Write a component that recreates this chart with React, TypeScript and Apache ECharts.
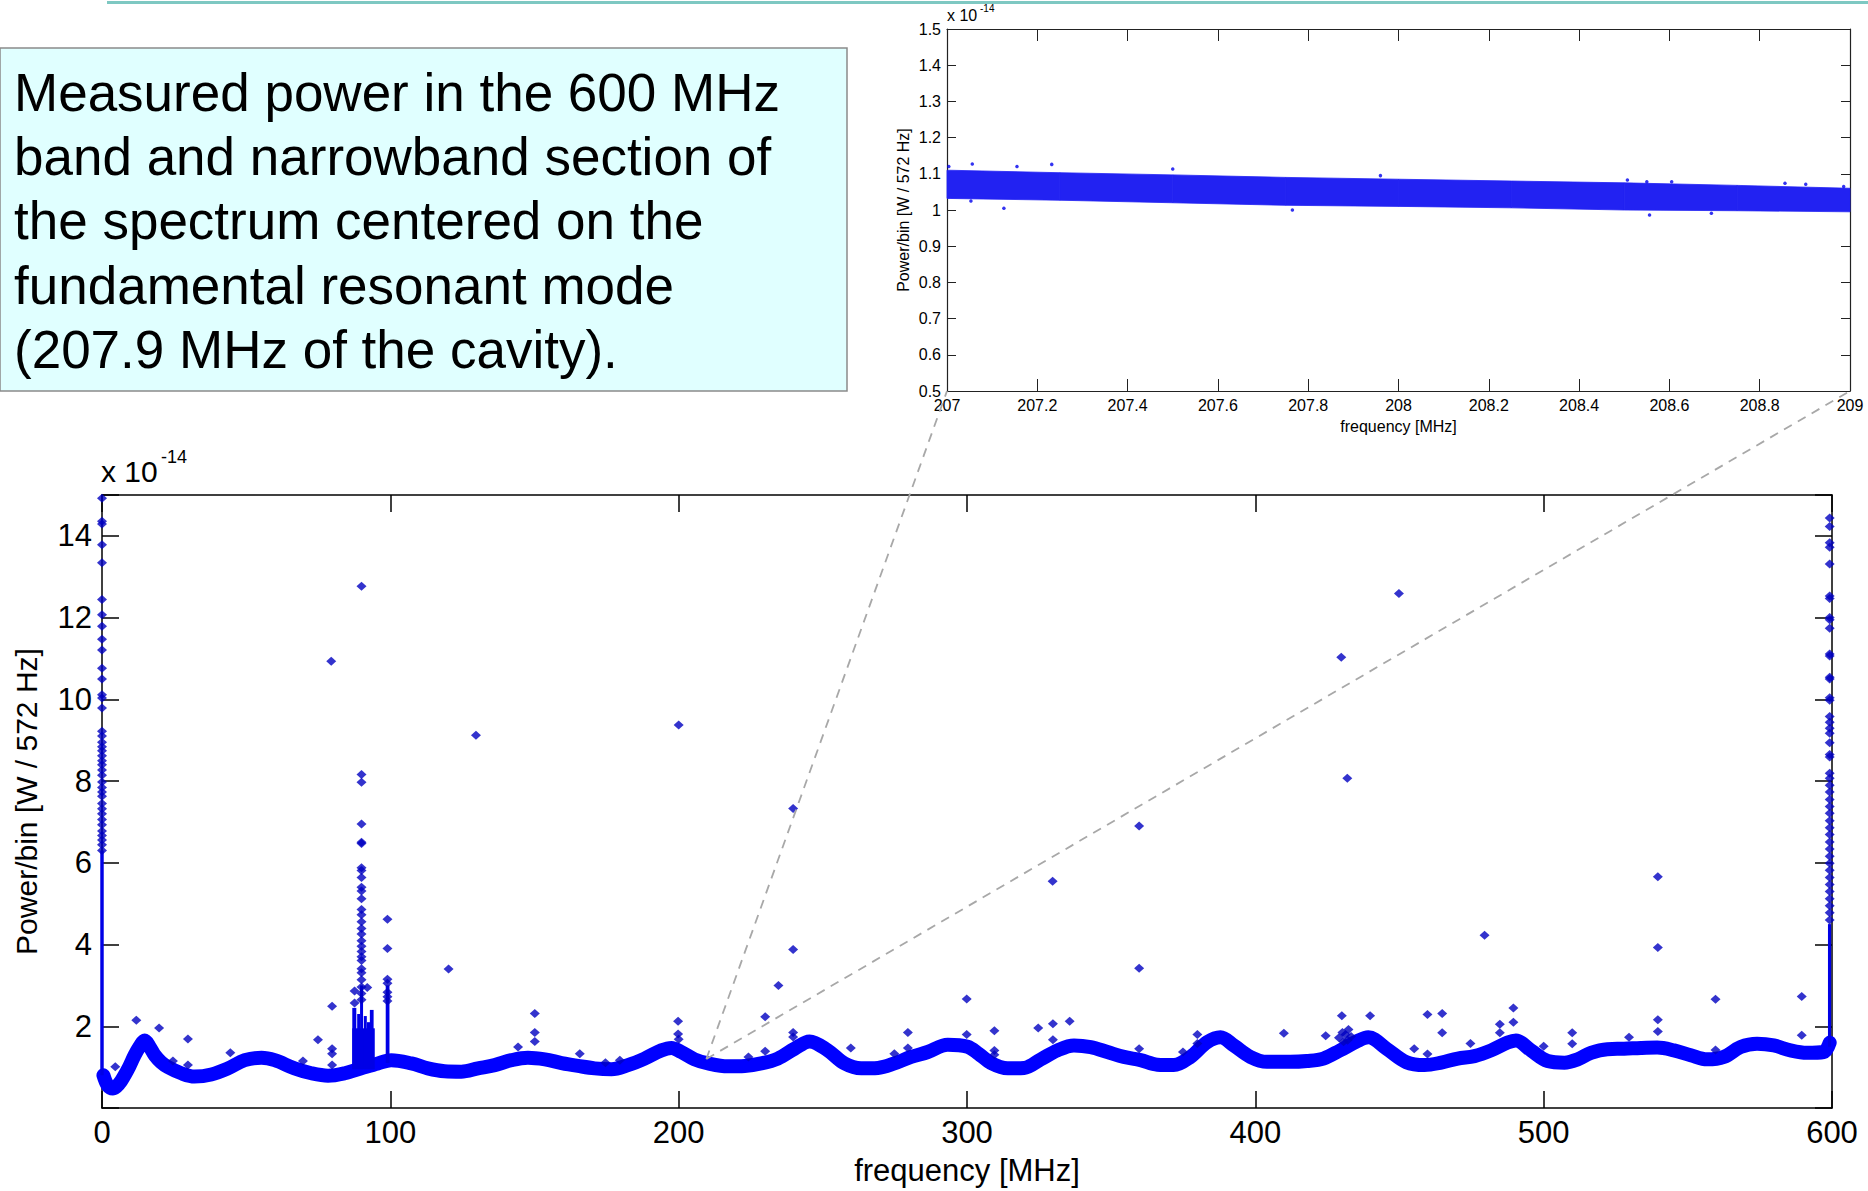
import React, { useEffect, useRef } from "react";
import * as echarts from "echarts";

// ---------- main spectrum: smooth baseline band (MHz, x1e-14 W) ----------
const bandFreq = [0.5, 2, 3.8, 6, 7.9, 9.5, 11.3, 13, 14.8, 16.5, 18.3, 20.5, 22.9, 27.5, 32.1, 37.9, 43.7, 49.5, 55.3, 59.9, 66.8, 72.6, 78.4, 84.2, 89.9, 95.7, 100.3, 107.3, 113, 118.8, 124.6, 130.4, 136.2, 142, 147.7, 153.6, 159.4, 165.1, 170.9, 176.7, 182.4, 188.2, 194, 197.5, 200.9, 205.5, 210.2, 217.1, 222.9, 228.6, 234.4, 240.2, 245.4, 251.7, 257.5, 263.3, 269.1, 274.8, 280.6, 286.4, 293.3, 300.2, 304, 308.3, 314.1, 319.8, 325.6, 331.4, 337.1, 342.9, 348.7, 354.4, 360.2, 366, 371.7, 377.5, 383.3, 387.9, 392.5, 398.3, 404, 412.1, 417.9, 423.6, 429.4, 435.2, 439.2, 445.5, 452.4, 458.7, 464.5, 470.2, 476, 481.8, 487.5, 490.4, 495.6, 501.4, 507.2, 511.8, 516.4, 522.1, 527.9, 533.7, 539.4, 545.2, 551, 556.7, 562.5, 568.3, 574, 579.8, 585.6, 591.3, 597.1, 599.2];
const bandValue = [0.8, 0.55, 0.48, 0.6, 0.81, 1.02, 1.29, 1.5, 1.65, 1.5, 1.29, 1.12, 1.0, 0.85, 0.77, 0.82, 0.97, 1.17, 1.23, 1.17, 0.97, 0.85, 0.79, 0.85, 0.97, 1.09, 1.17, 1.09, 0.97, 0.9, 0.89, 0.97, 1.05, 1.17, 1.23, 1.19, 1.1, 1.03, 0.97, 0.95, 1.05, 1.21, 1.41, 1.47, 1.37, 1.19, 1.09, 1.02, 1.03, 1.09, 1.21, 1.45, 1.63, 1.41, 1.09, 0.97, 0.98, 1.09, 1.25, 1.37, 1.55, 1.5, 1.33, 1.1, 0.97, 0.98, 1.19, 1.41, 1.53, 1.49, 1.37, 1.25, 1.17, 1.06, 1.05, 1.25, 1.61, 1.73, 1.53, 1.25, 1.13, 1.13, 1.15, 1.21, 1.41, 1.63, 1.73, 1.45, 1.12, 1.05, 1.11, 1.21, 1.27, 1.41, 1.6, 1.65, 1.41, 1.15, 1.11, 1.19, 1.35, 1.44, 1.45, 1.47, 1.48, 1.41, 1.29, 1.19, 1.25, 1.49, 1.57, 1.53, 1.41, 1.35, 1.37, 1.6];

// dense vertical streaks: [freqFrom, freqTo, low, high]
const streaks = [
  [-0.6, 0.6, 0.8, 6.3],
  [598.6, 599.7, 1.5, 4.5],
  [86.8, 94.6, 0.95, 1.95],
  [86.8, 88.2, 0.95, 2.45],
  [88.5, 89.3, 0.95, 2.3],
  [89.5, 90.5, 0.95, 3.0],
  [90.8, 91.7, 0.95, 2.25],
  [91.9, 92.6, 0.95, 2.1],
  [92.9, 94.2, 0.95, 2.4],
  [98.4, 99.7, 1.1, 3.0],
];

// isolated columns of spectral lines
const column0Freq = 0;
const column0Values = [14.92, 14.36, 14.29, 13.78, 13.34, 12.44, 12.07, 11.79, 11.47, 11.21, 10.76, 10.5, 10.11, 10.03, 9.79, 9.22, 9.1, 8.95, 8.84, 8.74, 8.62, 8.5, 8.4, 8.27, 8.14, 7.98, 7.84, 7.73, 7.63, 7.45, 7.32, 7.2, 7.06, 6.93, 6.78, 6.67, 6.56, 6.44, 6.3];
const column90Freq = 90;
const column90Values = [12.77, 8.16, 7.97, 6.95, 6.5, 6.47, 5.88, 5.81, 5.64, 5.4, 5.31, 5.12, 4.86, 4.73, 4.56, 4.39, 4.26, 4.09, 3.96, 3.83, 3.7, 3.61, 3.41, 3.31, 3.14, 2.96, 2.8, 2.65];
const column99Freq = 99;
const column99Values = [4.62, 3.9, 3.15, 3.05, 2.83, 2.72, 2.62];
const column600Freq = 599.2;
const column600Values = [14.44, 14.23, 13.83, 13.72, 13.31, 12.53, 12.47, 12.0, 11.95, 11.74, 11.11, 11.06, 10.54, 10.5, 10.04, 9.98, 9.58, 9.44, 9.29, 9.17, 8.94, 8.65, 8.59, 8.19, 8.07, 7.9, 7.73, 7.55, 7.38, 7.21, 7.03, 6.86, 6.69, 6.51, 6.34, 6.16, 5.99, 5.82, 5.64, 5.47, 5.3, 5.12, 4.95, 4.78, 4.6];

// scattered outliers [MHz, value]
const outliers = [[4.6, 1.01], [11.9, 2.15], [19.8, 1.96], [24.6, 1.15], [29.8, 1.69], [29.8, 1.05], [44.5, 1.35], [69.7, 1.15], [74.9, 1.67], [79.5, 10.93], [79.8, 2.49], [79.8, 1.45], [79.8, 1.33], [79.8, 1.05], [87.6, 2.86], [87.6, 2.57], [92.0, 2.95], [120.2, 3.4], [129.7, 9.12], [144.3, 1.49], [150.1, 2.31], [150.1, 1.85], [150.1, 1.63], [165.7, 1.33], [174.6, 1.11], [179.6, 1.17], [200, 9.37], [199.8, 2.12], [199.8, 1.81], [200, 1.68], [224.2, 1.25], [230, 2.23], [230, 1.39], [234.6, 3.0], [239.7, 7.33], [239.7, 3.88], [239.7, 1.85], [239.7, 1.74], [259.7, 1.47], [274.8, 1.33], [279.5, 1.85], [279.5, 1.47], [299.9, 2.67], [299.9, 1.8], [309.5, 1.89], [309.5, 1.41], [309.5, 1.3], [324.7, 1.96], [329.7, 5.55], [329.8, 2.06], [329.8, 1.67], [335.6, 2.12], [359.7, 6.9], [359.7, 3.42], [359.7, 1.45], [374.9, 1.37], [379.9, 1.8], [379.9, 1.58], [409.9, 1.83], [424.4, 1.77], [429.8, 11.03], [431.9, 8.07], [430, 2.26], [439.8, 2.26], [429, 1.72], [430.2, 1.85], [431.3, 1.8], [432.3, 1.92], [433.2, 1.75], [430.6, 1.62], [432, 1.66], [449.8, 12.59], [455.1, 1.45], [459.7, 2.29], [459.7, 1.32], [464.8, 2.31], [464.8, 1.84], [474.6, 1.58], [479.5, 4.23], [484.8, 2.05], [484.8, 1.84], [489.5, 2.45], [489.5, 2.1], [500, 1.51], [509.9, 1.84], [509.9, 1.57], [529.6, 1.73], [539.6, 5.66], [539.6, 3.93], [539.6, 2.16], [539.6, 1.87], [559.6, 2.66], [559.6, 1.42], [589.5, 2.73], [589.5, 1.78]];

// ---------- inset: narrowband 207-209 MHz ----------
const insetFreq = [207, 207.25, 207.5, 207.75, 208, 208.25, 208.5, 208.75, 209];
const insetUpper = [1.11, 1.103, 1.097, 1.09, 1.085, 1.08, 1.075, 1.068, 1.06];
const insetLower = [1.032, 1.027, 1.02, 1.013, 1.01, 1.006, 1.0, 0.998, 0.995];
const insetOutliers = [[207.004, 1.12], [207.056, 1.127], [207.155, 1.12], [207.232, 1.126], [207.126, 1.005], [207.053, 1.025], [207.5, 1.113], [207.765, 1.0], [207.96, 1.095], [208.507, 1.083], [208.55, 1.078], [208.605, 1.078], [208.556, 0.986], [208.693, 0.991], [208.856, 1.074], [208.902, 1.071], [208.986, 1.065]];

// zoom anchor on main spectrum
const zoomAnchor = [209.6, 1.2];

const mainXTicks = { min: 0, max: 600, interval: 100 };
const mainYTicks = { min: 0, max: 15, interval: 2 };
const insetXTicks = { min: 207, max: 209, interval: 0.2 };
const insetYTicks = { min: 0.5, max: 1.5, interval: 0.1 };

const FONT = "Liberation Sans, Arial, Helvetica, sans-serif";
const BLUE = "#0000FF";

const caption = [
  "Measured power in the 600 MHz",
  "band and narrowband section of",
  "the spectrum centered on the",
  "fundamental resonant mode",
  "(207.9 MHz of the cavity).",
];

export default function App() {
  const ref = useRef<HTMLDivElement>(null);
  useEffect(() => {
    if (!ref.current) return;
    const chart = echarts.init(ref.current, null, { renderer: "svg", width: 1868, height: 1191 });

    const mainAxisLine = { onZero: false, lineStyle: { color: "#000", width: 1.5 } };
    const insetAxisLine = { onZero: false, lineStyle: { color: "#222", width: 1.2 } };

    const mk = (xs: number, vals: number[]) => vals.map((v) => [xs, v]);
    const mainPoints = [
      ...mk(column0Freq, column0Values),
      ...mk(column90Freq, column90Values),
      ...mk(column99Freq, column99Values),
      ...mk(column600Freq, column600Values),
      ...outliers,
    ];

    const option: any = {
      animation: false,
      backgroundColor: "#ffffff",
      grid: [
        { left: 102, top: 495, width: 1730, height: 618 },
        { left: 947, top: 29, width: 903, height: 362 },
      ],
      xAxis: [
        {
          gridIndex: 0, type: "value", position: "bottom", ...mainXTicks,
          axisLine: mainAxisLine,
          axisTick: { inside: true, length: 17, lineStyle: { color: "#000", width: 1.5 } },
          axisLabel: { fontSize: 31, color: "#000", margin: 9, fontFamily: FONT },
          splitLine: { show: false },
          name: "frequency [MHz]", nameLocation: "middle", nameGap: 47,
          nameTextStyle: { fontSize: 31, color: "#000", fontFamily: FONT },
        },
        {
          gridIndex: 0, type: "value", position: "top", ...mainXTicks,
          axisLine: mainAxisLine,
          axisTick: { inside: true, length: 17, lineStyle: { color: "#000", width: 1.5 } },
          axisLabel: { show: false }, splitLine: { show: false },
        },
        {
          gridIndex: 1, type: "value", position: "bottom", ...insetXTicks,
          axisLine: insetAxisLine,
          axisTick: { inside: true, length: 12, lineStyle: { color: "#222" } },
          axisLabel: { fontSize: 16, color: "#000", margin: 6, fontFamily: FONT, formatter: (v: number) => String(+v.toFixed(1)) },
          splitLine: { show: false },
          name: "frequency [MHz]", nameLocation: "middle", nameGap: 27,
          nameTextStyle: { fontSize: 16, color: "#000", fontFamily: FONT },
        },
        {
          gridIndex: 1, type: "value", position: "top", ...insetXTicks,
          axisLine: insetAxisLine,
          axisTick: { inside: true, length: 12, lineStyle: { color: "#222" } },
          axisLabel: { show: false }, splitLine: { show: false },
        },
      ],
      yAxis: [
        {
          gridIndex: 0, type: "value", position: "left", ...mainYTicks,
          axisLine: mainAxisLine,
          axisTick: { inside: true, length: 17, lineStyle: { color: "#000", width: 1.5 } },
          axisLabel: {
            fontSize: 31, color: "#000", margin: 10, fontFamily: FONT,
            formatter: (v: number) => (v === 0 || v === 15 ? "" : String(v)),
          },
          splitLine: { show: false },
          name: "Power/bin [W / 572 Hz]", nameLocation: "middle", nameGap: 61,
          nameTextStyle: { fontSize: 30, color: "#000", fontFamily: FONT },
        },
        {
          gridIndex: 0, type: "value", position: "right", ...mainYTicks,
          axisLine: mainAxisLine,
          axisTick: { inside: true, length: 17, lineStyle: { color: "#000", width: 1.5 } },
          axisLabel: { show: false }, splitLine: { show: false },
        },
        {
          gridIndex: 1, type: "value", position: "left", ...insetYTicks,
          axisLine: insetAxisLine,
          axisTick: { inside: true, length: 9, lineStyle: { color: "#222" } },
          axisLabel: { fontSize: 16, color: "#000", margin: 6, fontFamily: FONT, formatter: (v: number) => String(+v.toFixed(1)) },
          splitLine: { show: false },
          name: "Power/bin [W / 572 Hz]", nameLocation: "middle", nameGap: 36,
          nameTextStyle: { fontSize: 16, color: "#000", fontFamily: FONT },
        },
        {
          gridIndex: 1, type: "value", position: "right", ...insetYTicks,
          axisLine: insetAxisLine,
          axisTick: { inside: true, length: 9, lineStyle: { color: "#222" } },
          axisLabel: { show: false }, splitLine: { show: false },
        },
      ],
      series: [
        {
          type: "line", xAxisIndex: 0, yAxisIndex: 0,
          data: bandFreq.map((f, i) => [f, bandValue[i]]),
          smooth: 0.35, showSymbol: false, symbol: "none",
          lineStyle: { color: BLUE, width: 14, cap: "round", join: "round" },
          z: 2,
        },
        {
          type: "custom", xAxisIndex: 0, yAxisIndex: 0,
          data: streaks,
          encode: { x: [0, 1], y: [2, 3] },
          renderItem: (params: any, api: any) => {
            const p0 = api.coord([api.value(0), api.value(3)]);
            const p1 = api.coord([api.value(1), api.value(2)]);
            return {
              type: "rect",
              shape: { x: p0[0], y: p0[1], width: Math.max(p1[0] - p0[0], 3), height: p1[1] - p0[1] },
              style: { fill: "#0000E6" },
            };
          },
          z: 3,
        },
        {
          type: "scatter", xAxisIndex: 0, yAxisIndex: 0,
          data: mainPoints,
          symbol: "diamond", symbolSize: [10, 9],
          itemStyle: { color: "#0000C0" },
          clip: false,
          z: 4,
        },
        {
          type: "custom", xAxisIndex: 2, yAxisIndex: 2,
          data: insetFreq.map((f, i) => [f, insetLower[i], insetUpper[i]]),
          encode: { x: 0, y: [1, 2] },
          renderItem: (params: any, api: any) => {
            const i = params.dataIndex;
            if (i >= insetFreq.length - 1) return null;
            const pts = [
              api.coord([insetFreq[i], insetUpper[i]]),
              api.coord([insetFreq[i + 1], insetUpper[i + 1]]),
              api.coord([insetFreq[i + 1], insetLower[i + 1]]),
              api.coord([insetFreq[i], insetLower[i]]),
            ];
            return {
              type: "polygon",
              shape: { points: pts },
              style: { fill: "#2222F2", stroke: "#2222F2", lineWidth: 0.8 },
            };
          },
          z: 2,
        },
        {
          type: "scatter", xAxisIndex: 2, yAxisIndex: 2,
          data: insetOutliers,
          symbol: "circle", symbolSize: 3.5,
          itemStyle: { color: "#0000EE" },
          z: 4,
        },
      ],
    };

    chart.setOption(option);

    const a = chart.convertToPixel({ seriesIndex: 0 }, zoomAnchor) as number[];
    const b = chart.convertToPixel({ seriesIndex: 4 }, [insetXTicks.min, insetYTicks.min]) as number[];
    const c = chart.convertToPixel({ seriesIndex: 4 }, [insetXTicks.max, insetYTicks.min]) as number[];

    const dash = { stroke: "#A8A8A8", lineWidth: 1.8, lineDash: [9, 7] };

    chart.setOption({
      graphic: [
        { type: "line", shape: { x1: 107, y1: 2.5, x2: 1868, y2: 2.5 }, style: { stroke: "#7EC8C2", lineWidth: 3 }, z: 10 },
        { type: "rect", shape: { x: 0, y: 48, width: 847, height: 343 }, style: { fill: "#E0FFFF", stroke: "#8A8A8A", lineWidth: 1.5 }, z: 10 },
        {
          type: "text", x: 14, y: 60, z: 11,
          style: { text: caption.join("\n"), font: `53px ${FONT}`, fill: "#000", lineHeight: 64.3, verticalAlign: "top" },
        },
        { type: "text", x: 101, y: 471, z: 11, style: { text: "x 10", font: `30px ${FONT}`, fill: "#000", verticalAlign: "middle" } },
        { type: "text", x: 161, y: 457, z: 11, style: { text: "-14", font: `18px ${FONT}`, fill: "#000", verticalAlign: "middle" } },
        { type: "text", x: 947, y: 15, z: 11, style: { text: "x 10", font: `16px ${FONT}`, fill: "#000", verticalAlign: "middle" } },
        { type: "text", x: 980, y: 8, z: 11, style: { text: "-14", font: `10px ${FONT}`, fill: "#000", verticalAlign: "middle" } },
        { type: "line", shape: { x1: a[0], y1: a[1], x2: b[0], y2: b[1] }, style: dash, z: 9 },
        { type: "line", shape: { x1: a[0], y1: a[1], x2: c[0], y2: c[1] }, style: dash, z: 9 },
      ],
    });

    return () => chart.dispose();
  }, []);

  return (
    <div
      ref={ref}
      style={{ position: "fixed", left: 0, top: 0, width: 1868, height: 1191, background: "#fff" }}
    />
  );
}
